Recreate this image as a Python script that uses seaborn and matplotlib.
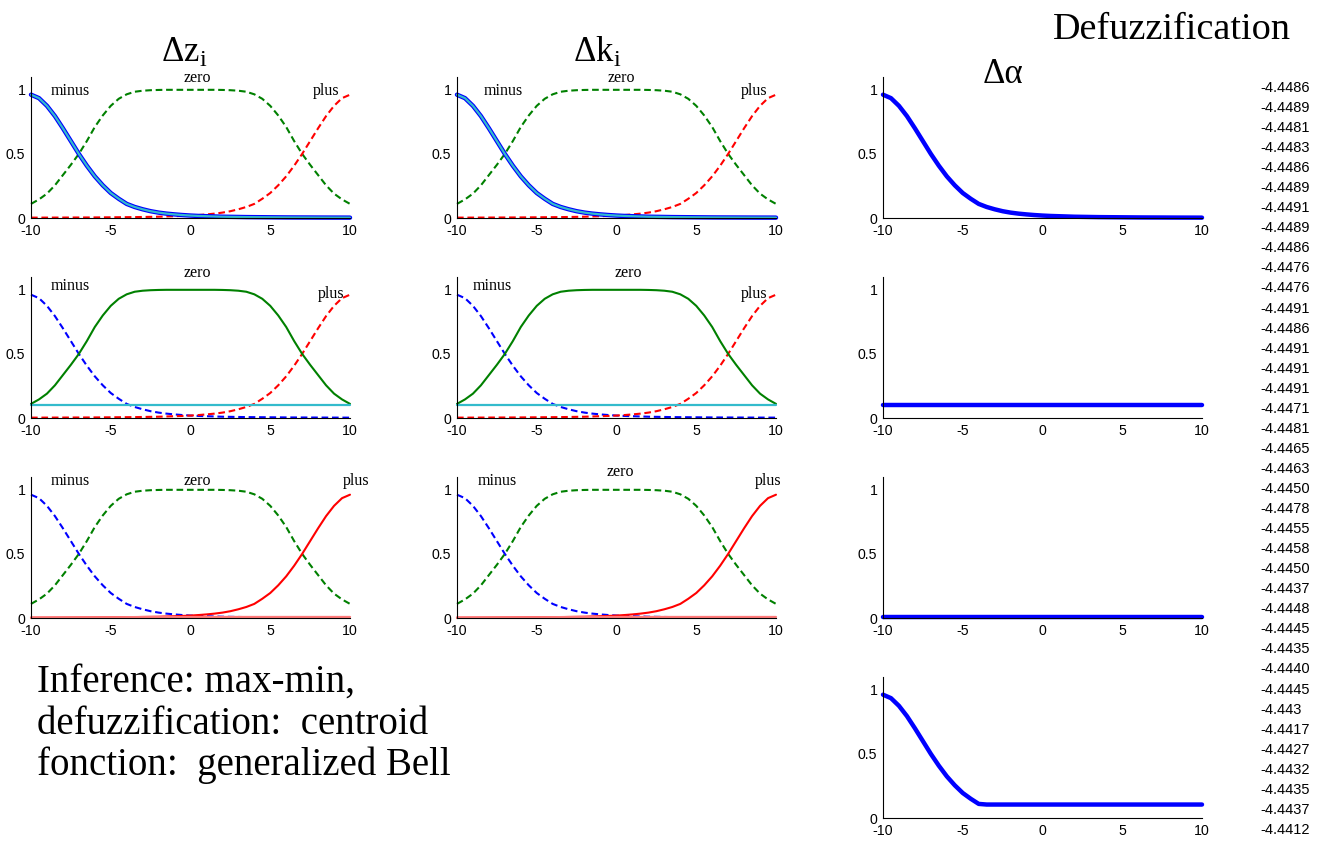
import numpy as np
import matplotlib
matplotlib.use("Agg")
import matplotlib.pyplot as plt
import seaborn as sns

# ---- membership functions on the universe [-10, 10], sampled every 0.5 ----
x_grid = np.linspace(-10, 10, 41)

minus_mf = [0.962, 0.935, 0.875, 0.795, 0.700, 0.600, 0.500, 0.408, 0.325, 0.255,
            0.195, 0.150, 0.110, 0.086, 0.068, 0.053, 0.042, 0.034, 0.028, 0.023,
            0.019, 0.016, 0.014, 0.012, 0.010, 0.009, 0.008, 0.007, 0.0065, 0.006,
            0.0055, 0.005, 0.0045, 0.0042, 0.004, 0.0038, 0.0035, 0.0033, 0.0031, 0.003,
            0.0028]

zero_mf = [0.110, 0.145, 0.190, 0.255, 0.335, 0.415, 0.500, 0.600, 0.710, 0.800,
           0.875, 0.930, 0.965, 0.985, 0.993, 0.997, 0.999, 1.0, 1.0, 1.0,
           1.0, 1.0, 1.0, 1.0, 0.999, 0.997, 0.993, 0.985, 0.965, 0.930,
           0.875, 0.800, 0.710, 0.600, 0.500, 0.415, 0.335, 0.255, 0.190, 0.145,
           0.110]

plus_mf = [0.0028, 0.003, 0.0031, 0.0033, 0.0035, 0.0038, 0.004, 0.0042, 0.0045, 0.005,
           0.0055, 0.006, 0.0065, 0.007, 0.008, 0.009, 0.010, 0.012, 0.014, 0.016,
           0.019, 0.023, 0.028, 0.034, 0.042, 0.053, 0.068, 0.086, 0.110, 0.150,
           0.195, 0.255, 0.325, 0.408, 0.500, 0.600, 0.700, 0.795, 0.875, 0.935,
           0.962]

# rule firing strengths (rule 1: minus, rule 2: zero, rule 3: plus)
rule_levels = [1.0, 0.105, 0.008]

# defuzzified output history
defuzz_values = ["-4.4486", "-4.4489", "-4.4481", "-4.4483", "-4.4486", "-4.4489",
                 "-4.4491", "-4.4489", "-4.4486", "-4.4476", "-4.4476", "-4.4491",
                 "-4.4486", "-4.4491", "-4.4491", "-4.4491", "-4.4471", "-4.4481",
                 "-4.4465", "-4.4463", "-4.4450", "-4.4478", "-4.4455", "-4.4458",
                 "-4.4450", "-4.4437", "-4.4448", "-4.4445", "-4.4435", "-4.4440",
                 "-4.4445", "-4.443", "-4.4417", "-4.4427", "-4.4432", "-4.4435",
                 "-4.4437", "-4.4412"]

x_ticks = [-10, -5, 0, 5, 10]
x_tick_labels = ["-10", "-5", "0", "5", "10"]
y_ticks = [0, 0.5, 1]
y_tick_labels = ["0", "0.5", "1"]
mf_names = ["minus", "zero", "plus"]

# ---- style ----
sns.set_theme(style="white")
plt.rcParams["font.family"] = ["Liberation Serif", "DejaVu Serif"]
plt.rcParams["mathtext.fontset"] = "custom"
plt.rcParams["mathtext.rm"] = "Liberation Serif"
plt.rcParams["mathtext.it"] = "Liberation Serif:italic"
plt.rcParams["axes.unicode_minus"] = False
plt.rcParams["text.color"] = "black"
plt.rcParams["xtick.color"] = "black"
plt.rcParams["ytick.color"] = "black"
plt.rcParams["axes.labelcolor"] = "black"

W, H = 1327, 841
fig = plt.figure(figsize=(W / 100, H / 100), dpi=100)
fig.patch.set_facecolor("white")

BLUE, GREEN, RED = "#0000ff", "#008000", "#ff0000"
CYAN = "#33bbcc"
PINK = "#ff7a7a"
DASH = (0, (3.2, 1.8))
MF_LW = 1.5
THICK = 3.2

col_left = [31, 457, 883]
ax_w, ax_h = 319, 141


def make_axes(left_px, zero_px):
    ax = fig.add_axes([left_px / W, 1 - zero_px / H, ax_w / W, ax_h / H])
    ax.set_xlim(-10, 10)
    ax.set_ylim(0, 1.1)
    ax.set_xticks(x_ticks)
    ax.set_xticklabels(x_tick_labels)
    ax.set_yticks(y_ticks)
    ax.set_yticklabels(y_tick_labels)
    ax.tick_params(direction="in", length=3, width=0.8, labelsize=10.2,
                   colors="black")
    ax.tick_params(axis="x", pad=4.5)
    ax.tick_params(axis="y", pad=4)
    for lab in ax.get_xticklabels() + ax.get_yticklabels():
        lab.set_family("Liberation Sans")
        lab.set_color("black")
    sns.despine(ax=ax)
    for s in ("left", "bottom"):
        ax.spines[s].set_color("black")
        ax.spines[s].set_linewidth(0.8)
    ax.set_facecolor("none")
    ax.grid(False)
    return ax


def line(ax, y, color, lw=MF_LW, ls="-"):
    sns.lineplot(x=x_grid, y=np.asarray(y), ax=ax, color=color, lw=lw,
                 linestyle=ls, clip_on=False, legend=False)


mfs = [np.array(minus_mf), np.array(zero_mf), np.array(plus_mf)]
mf_colors = [BLUE, GREEN, RED]
fire_colors = [CYAN, CYAN, PINK]

# label positions (x, y) for minus / zero / plus in each input panel
label_pos = {
    (0, 0): [(-7.55, 0.99), (0.45, 1.09), (8.5, 0.99)],
    (0, 1): [(-7.55, 1.03), (0.4, 1.13), (8.8, 0.97)],
    (0, 2): [(-7.55, 1.07), (0.45, 1.07), (10.4, 1.07)],
    (1, 0): [(-7.1, 0.99), (0.3, 1.09), (8.6, 0.99)],
    (1, 1): [(-7.8, 1.03), (0.75, 1.13), (8.6, 0.97)],
    (1, 2): [(-7.5, 1.07), (0.25, 1.14), (9.5, 1.07)],
}

# ---- input panels: rows = rules, columns = inputs ----
for col in range(2):
    for row in range(3):
        ax = make_axes(col_left[col], 218 + 200 * row)
        for k in range(3):
            if k != row:
                line(ax, mfs[k], mf_colors[k], ls=DASH)
        if row == 0:
            line(ax, mfs[0], BLUE, lw=THICK)
        else:
            line(ax, mfs[row], mf_colors[row])
        line(ax, np.minimum(mfs[row], rule_levels[row]), fire_colors[row], lw=1.6)
        for k, (lx, ly) in enumerate(label_pos[(col, row)]):
            ax.text(lx, ly, mf_names[k], ha="center", va="center", fontsize=11.5,
                    clip_on=False)

# ---- output panels ----
rule_outputs = [np.minimum(mfs[0], rule_levels[0]),
                np.minimum(mfs[1], rule_levels[1]),
                np.full_like(x_grid, rule_levels[2])]
aggregate = np.maximum.reduce(rule_outputs)

for row, y in enumerate(rule_outputs + [aggregate]):
    ax = make_axes(col_left[2], 218 + 200 * row)
    line(ax, y, BLUE, lw=THICK)

# ---- titles and notes ----
fig.text(184 / W, 1 - 62 / H, r"$\mathrm{\Delta z_i}$", ha="center",
         va="baseline", fontsize=25)
fig.text(597 / W, 1 - 62 / H, r"$\mathrm{\Delta k_i}$", ha="center",
         va="baseline", fontsize=25)
fig.text(1003 / W, 1 - 83 / H, "Δα", ha="center", va="baseline", fontsize=25)
fig.text(1172 / W, 1 - 39 / H, "Defuzzification", ha="center", va="baseline",
         fontsize=27.5)

notes = ["Inference: max-min,", "defuzzification:  centroid",
         "fonction:  generalized Bell"]
for i, t in enumerate(notes):
    fig.text(37 / W, 1 - (692 + 41.5 * i) / H, t, ha="left", va="baseline",
             fontsize=28)

for i, v in enumerate(defuzz_values):
    fig.text(1260 / W, 1 - (88 + 20.05 * i) / H, v, ha="left", va="center",
             fontsize=10.5, family="Liberation Sans")

fig.savefig("out.png", dpi=100, facecolor="white")
